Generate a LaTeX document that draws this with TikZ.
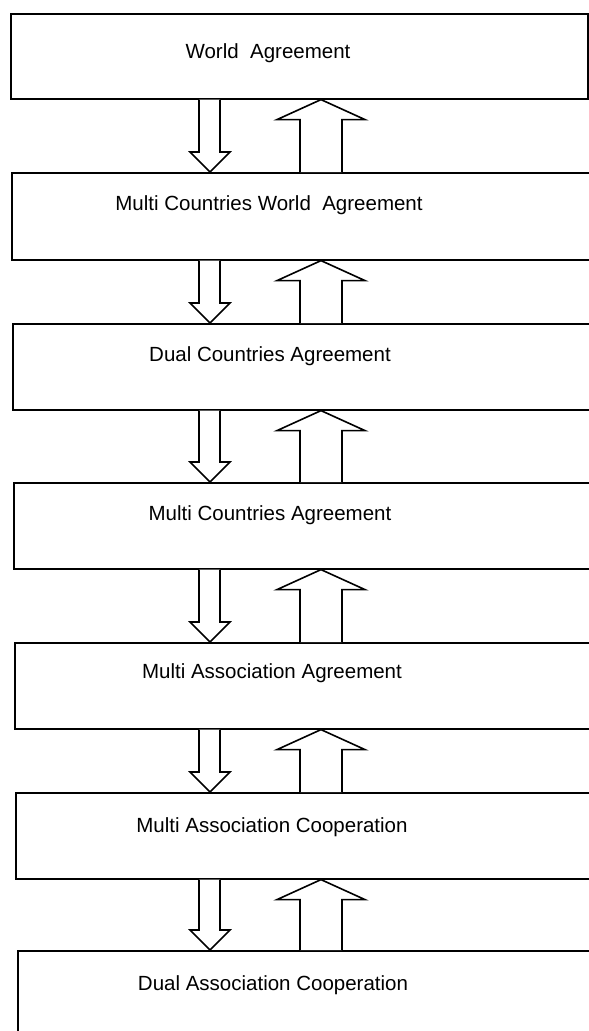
\documentclass[tikz,border=0pt]{standalone}
\usepackage{fontspec}
\setmainfont{Liberation Sans}
\usetikzlibrary{calc}

\tikzset{
  level/.style={draw, line width=1.6pt, rectangle, anchor=north west, inner sep=0pt},
  leveltext/.style={font=\fontsize{20.5}{24}\selectfont, inner sep=0pt},
  hollow/.style={draw, line width=1.6pt, line join=miter, fill=white}
}

% down arrow from box #1 to box #2
\newcommand{\dnarrow}[2]{%
  \draw[hollow] (dnl |- #1.south) -- ([yshift=20pt]dnl |- #2.north)
    -- ([yshift=20pt]dnhl |- #2.north) -- (dnt |- #2.north)
    -- ([yshift=20pt]dnhr |- #2.north) -- ([yshift=20pt]dnr |- #2.north)
    -- (dnr |- #1.south);}
% up arrow from box #2 to box #1
\newcommand{\uparr}[2]{%
  \draw[hollow] (upl |- #2.north) -- ([yshift=-20pt]upl |- #1.south)
    -- ([yshift=-20pt]uphl |- #1.south) -- (upt |- #1.south)
    -- ([yshift=-20pt]uphr |- #1.south) -- ([yshift=-20pt]upr |- #1.south)
    -- (upr |- #2.north);}

\begin{document}
\begin{tikzpicture}[x=1pt, y=-1pt]
  \useasboundingbox (0,0) rectangle (589,1031);
  \clip (0,0) rectangle (589,1031);
  \fill[white] (0,0) rectangle (589,1031);

  % x positions of the arrows
  \coordinate (dnl) at (199,0);
  \coordinate (dnr) at (220,0);
  \coordinate (dnhl) at (190,0);
  \coordinate (dnhr) at (230,0);
  \coordinate (dnt) at (210,0);
  \coordinate (upl) at (300,0);
  \coordinate (upr) at (342,0);
  \coordinate (uphl) at (277,0);
  \coordinate (uphr) at (365,0);
  \coordinate (upt) at (321,0);

  % the levels
  \node[level, minimum width=577pt, minimum height=85pt] (world) at (10,13) {};
  \node[leveltext] (worldtxt) at (268,53) {World\ \ Agreement};

  \node[level, minimum width=640pt, minimum height=87pt] (mcworld) at (11,172) {};
  \node[leveltext] (mcworldtxt) at (269,205) {Multi Countries World\ \ Agreement};

  \node[level, minimum width=640pt, minimum height=86pt] (dualc) at (12,323) {};
  \node[leveltext] (dualctxt) at (270,356) {Dual Countries Agreement};

  \node[level, minimum width=640pt, minimum height=86pt] (multic) at (13,482) {};
  \node[leveltext] (multictxt) at (270,515) {Multi Countries Agreement};

  \node[level, minimum width=640pt, minimum height=86pt] (multia) at (14,642) {};
  \node[leveltext] (multiatxt) at (272,673) {Multi Association Agreement};

  \node[level, minimum width=640pt, minimum height=86pt] (multicoop) at (15,792) {};
  \node[leveltext] (multicooptxt) at (272,827) {Multi Association Cooperation};

  \node[level, minimum width=640pt, minimum height=120pt] (dualcoop) at (17,950) {};
  \node[leveltext] (dualcooptxt) at (273,985) {Dual Association Cooperation};

  % arrows between the levels
  \foreach \a/\b in {world/mcworld, mcworld/dualc, dualc/multic,
                     multic/multia, multia/multicoop, multicoop/dualcoop}{
    \dnarrow{\a}{\b}
    \uparr{\a}{\b}
  }
\end{tikzpicture}
\end{document}
